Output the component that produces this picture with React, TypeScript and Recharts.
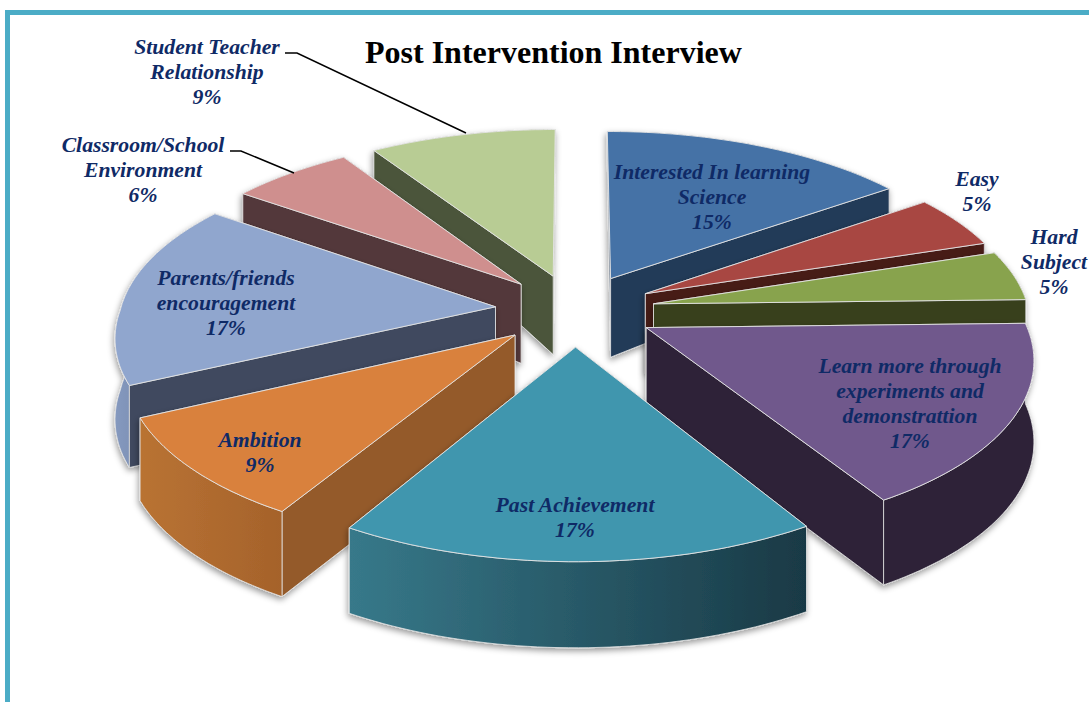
import React from "react";
import { Pie, PieChart } from "recharts";

const categories = [
  "Interested In learning Science",
  "Easy",
  "Hard Subject",
  "Learn more through experiments and demonstrattion",
  "Past Achievement",
  "Ambition",
  "Parents/friends encouragement",
  "Classroom/School Environment",
  "Student Teacher Relationship",
];
const values = [15, 4.9, 4.7, 16.8, 17, 9.4, 17.2, 6, 9];

const labelLines = [
  ["Interested In learning", "Science", "15%"],
  ["Easy", "5%"],
  ["Hard", "Subject", "5%"],
  ["Learn more through", "experiments and", "demonstrattion", "17%"],
  ["Past Achievement", "17%"],
  ["Ambition", "9%"],
  ["Parents/friends", "encouragement", "17%"],
  ["Classroom/School", "Environment", "6%"],
  ["Student Teacher", "Relationship", "9%"],
];
// centre x / first baseline y of each label
const labelAnchors = [
  [712, 179],
  [977, 186],
  [1054, 244],
  [910, 373],
  [575, 512],
  [260, 447],
  [226, 285],
  [143, 152],
  [207, 54],
];

// top face, cut faces, outer wall left, outer wall right
const sliceColors = [
  ["#4472a6", "#223a58", "#2a4a72", "#223a58"],
  ["#a84643", "#471a18", "#6e2c2a", "#471a18"],
  ["#88a34e", "#373f1f", "#5c6e34", "#373f1f"],
  ["#70588c", "#2d2338", "#2d2338", "#2d2338"],
  ["#4096ae", "#2b6273", "#37798a", "#193945"],
  ["#d9813c", "#945a29", "#b97333", "#a5622b"],
  ["#90a6ce", "#3f4a5e", "#8599bf", "#5e708f"],
  ["#cf8f8e", "#53383a", "#6b4a4a", "#53383a"],
  ["#b8cc94", "#4b553a", "#65734d", "#4b553a"],
];

// back to front
const drawOrder = [8, 7, 6, 0, 1, 2, 3, 5, 4];

const CX = 575;
const CY = 310;
const RADIUS = 375;
const EXPLODE = 80;
const SQUASH = 0.45;
const PERSPECTIVE_BACK = 0.00028;
const PERSPECTIVE_FRONT = 0.00041;

const rad = (deg: number) => (deg * Math.PI) / 180;

// disc coordinates -> screen, with the near side scaled up
function project(x: number, y: number, drop = false) {
  const f = 1 / (1 - (y < 0 ? PERSPECTIVE_BACK : PERSPECTIVE_FRONT) * y);
  const t = y / 450;
  const h = !drop ? 0 : t < 0 ? 80 - 52 * t * t : 80 + 6 * t;
  return [CX + x * f, CY + SQUASH * y * f + h];
}

function poly(points: number[][]) {
  return "M" + points.map((p) => `${p[0].toFixed(1)},${p[1].toFixed(1)}`).join("L") + "Z";
}

function Slice3D(props: any) {
  const { startAngle, endAngle, midAngle, outerRadius, name } = props;
  const i = categories.indexOf(name);
  const [top, cut, arcA, arcB] = sliceColors[i];
  const ox = EXPLODE * Math.cos(rad(midAngle));
  const oy = -EXPLODE * Math.sin(rad(midAngle));
  const steps = 48;
  const rim: number[][] = [];
  for (let s = 0; s <= steps; s++) {
    const a = rad(startAngle + ((endAngle - startAngle) * s) / steps);
    rim.push([ox + outerRadius * Math.cos(a), oy - outerRadius * Math.sin(a)]);
  }
  const up = (p: number[]) => project(p[0], p[1]);
  const down = (p: number[]) => project(p[0], p[1], true);
  const tip = [ox, oy];
  const first = rim[0];
  const last = rim[rim.length - 1];
  const walls = [
    { d: poly([up(tip), up(first), down(first), down(tip)]), y: (tip[1] + first[1]) / 2, fill: cut },
    { d: poly([up(tip), up(last), down(last), down(tip)]), y: (tip[1] + last[1]) / 2, fill: cut },
    {
      d: poly([...rim.map(up), ...rim.slice().reverse().map(down)]),
      y: rim.reduce((sum, p) => sum + p[1], 0) / rim.length,
      fill: `url(#arc-${i})`,
    },
  ].sort((a, b) => a.y - b.y);
  return (
    <g filter={`url(#shadow-${i})`}>
      <defs>
        <linearGradient id={`arc-${i}`} x1="0" y1="0" x2="1" y2="0">
          <stop offset="0%" stopColor={arcA} />
          <stop offset="100%" stopColor={arcB} />
        </linearGradient>
        <filter id={`shadow-${i}`} x="-10%" y="-10%" width="120%" height="125%">
          <feDropShadow dx="-1" dy="3" stdDeviation="3" floodColor="#000" floodOpacity="0.4" />
        </filter>
      </defs>
      {walls.map((w, k) => (
        <path key={k} d={w.d} fill={w.fill} stroke="#e4e4e4" strokeWidth={0.8} strokeLinejoin="round" />
      ))}
      <path d={poly([up(tip), ...rim.map(up)])} fill={top} stroke="#e4e4e4" strokeWidth={0.9} strokeLinejoin="round" />
    </g>
  );
}

function SliceLabel(props: any) {
  const i = props.index;
  const [x, y] = labelAnchors[i];
  return (
    <text
      x={x}
      y={y}
      textAnchor="middle"
      fontFamily="'Liberation Serif', serif"
      fontWeight="bold"
      fontStyle="italic"
      fontSize={21.7}
      fill="#0f2a66"
    >
      {labelLines[i].map((line, k) => (
        <tspan key={k} x={x} y={y + k * 25}>
          {line}
        </tspan>
      ))}
    </text>
  );
}

const pieData = categories.map((name, i) => ({ name, value: values[i] }));

export default function App() {
  return (
    <div style={{ position: "absolute", left: 0, top: 0, width: 1089, height: 702, background: "#fff", overflow: "hidden" }}>
      <div style={{ position: "absolute", left: 5, top: 10, width: 1100, height: 5, background: "#4bacc6" }} />
      <div style={{ position: "absolute", left: 5, top: 10, width: 5, height: 700, background: "#4bacc6" }} />
      <div
        style={{
          position: "absolute",
          left: 365,
          top: 34,
          fontFamily: "'Liberation Serif', serif",
          fontWeight: "bold",
          fontSize: 32,
          color: "#000",
          whiteSpace: "nowrap",
        }}
      >
        Post Intervention Interview
      </div>
      <PieChart width={1089} height={702} margin={{ top: 0, right: 0, bottom: 0, left: 0 }} style={{ position: "absolute", left: 0, top: 0 }}>
        {drawOrder.map((idx) => (
          <Pie
            key={idx}
            data={pieData}
            dataKey="value"
            nameKey="name"
            cx={CX}
            cy={CY}
            innerRadius={0}
            outerRadius={RADIUS}
            startAngle={90}
            endAngle={-270}
            isAnimationActive={false}
            stroke="none"
            shape={(p: any) => (p.name === categories[idx] ? <Slice3D {...p} /> : <g />)}
          />
        ))}
        <Pie
          data={pieData}
          dataKey="value"
          nameKey="name"
          cx={CX}
          cy={CY}
          outerRadius={RADIUS}
          startAngle={90}
          endAngle={-270}
          isAnimationActive={false}
          stroke="none"
          fill="none"
          shape={() => <g />}
          label={(p: any) => <SliceLabel {...p} />}
          labelLine={false}
        />
      </PieChart>
      <svg width={1089} height={702} style={{ position: "absolute", left: 0, top: 0, pointerEvents: "none" }}>
        <polyline points="285,53 297,53 466,133" fill="none" stroke="#000" strokeWidth={1.5} />
        <polyline points="230,151 241,151 294,173" fill="none" stroke="#000" strokeWidth={1.5} />
      </svg>
    </div>
  );
}
